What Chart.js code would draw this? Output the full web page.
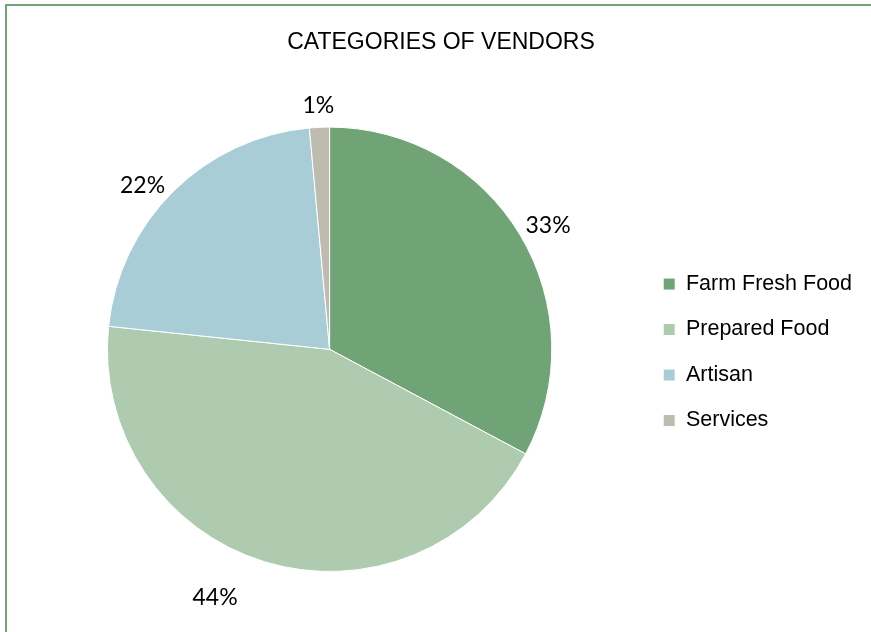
<!DOCTYPE html>
<html>
<head>
<meta charset="utf-8">
<script src="https://cdn.jsdelivr.net/npm/chart.js@4/dist/chart.umd.min.js"></script>
<style>
  html, body { margin: 0; padding: 0; background: #fff; }
  #wrap { position: relative; width: 871px; height: 632px; overflow: hidden; }
  #frame { position: absolute; left: 5px; top: 4px; width: 900px; height: 700px;
           border-top: 2px solid #70a473; border-left: 2px solid #70a473; pointer-events: none; }
</style>
</head>
<body>
<div id="wrap">
  <canvas id="myChart"></canvas>
  <div id="frame"></div>
</div>
<script>
//data
const categories = ['Farm Fresh Food', 'Prepared Food', 'Artisan', 'Services'];
const shares = [32.8, 43.85, 21.9, 1.45];

//colors
const sliceColors = ['#70a476', '#aecbb0', '#a9cdd6', '#bebcae'];

//percent labels outside the slices
const pctLabels = {
    id: 'pctLabels',
    afterDatasetsDraw(chart, args, opts) {
        const ctx = chart.ctx;
        const meta = chart.getDatasetMeta(0);
        const data = chart.data.datasets[0].data;
        const total = data.reduce((a, b) => a + b, 0);
        ctx.save();
        ctx.font = opts.font;
        ctx.fillStyle = opts.color;
        ctx.textAlign = 'center';
        ctx.textBaseline = 'middle';
        meta.data.forEach((arc, i) => {
            const p = arc.getProps(['x', 'y', 'startAngle', 'endAngle', 'outerRadius'], true);
            const mid = (p.startAngle + p.endAngle) / 2;
            const text = Math.round(data[i] / total * 100) + '%';
            const w = ctx.measureText(text).width;
            const h = opts.textHeight;
            const c = Math.cos(mid), s = Math.sin(mid);
            let x = p.x + c * (p.outerRadius + opts.gap) + c * w / 2;
            let y = p.y + s * (p.outerRadius + opts.gap) + s * h / 2;
            const n = opts.nudge[i];
            if (n) { x += n[0]; y += n[1]; }
            ctx.fillText(text, x, y);
        });
        ctx.restore();
    }
};

const config = {
    type: 'pie',
    data: {
        labels: categories,
        datasets: [{
            data: shares,
            backgroundColor: sliceColors,
            borderColor: '#ffffff',
            borderWidth: 1
        }]
    },
    options: {
        responsive: true,
        maintainAspectRatio: false,
        animation: false,
        layout: {
            padding: { left: 20, right: 9, top: 0, bottom: 60 }
        },
        plugins: {
            title: {
                display: true,
                text: 'CATEGORIES OF VENDORS',
                color: '#000',
                font: { family: 'Liberation Sans', size: 23, weight: 'normal' },
                padding: { top: 29, bottom: 70 }
            },
            legend: {
                position: 'right',
                fullSize: false,
                title: {
                    display: true,
                    text: '',
                    padding: 0,
                    font: { size: 5, lineHeight: 1.2 }
                },
                labels: {
                    color: '#000',
                    font: { family: 'Liberation Sans', size: 21.5 },
                    boxWidth: 12,
                    boxHeight: 12,
                    padding: 24
                }
            },
            tooltip: { enabled: false },
            pctLabels: {
                font: '23px Lato',
                color: '#000',
                textHeight: 18,
                gap: 10,
                nudge: { 1: [-40, 18], 2: [-8, 8], 3: [0, -3] }
            }
        }
    },
    plugins: [pctLabels]
};

document.fonts.load('23px Lato').then(function() {
    const ctx = document.getElementById('myChart').getContext('2d');
    const myChart = new Chart(ctx, config);
});
</script>
</body>
</html>
